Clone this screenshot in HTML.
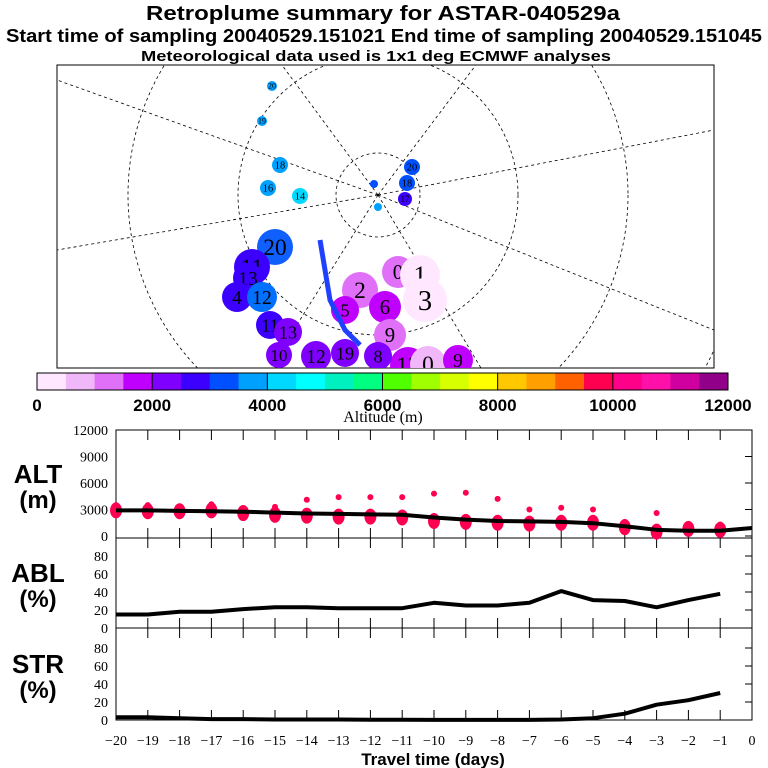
<!DOCTYPE html>
<html><head><meta charset="utf-8"><style>
body{margin:0;background:#fff;}
svg{display:block;font-family:"Liberation Sans",sans-serif;}
</style></head><body>
<svg id="c" width="768" height="768" viewBox="0 0 768 768">
<text x="383" y="20" text-anchor="middle" font-size="20" font-weight="bold" textLength="474" lengthAdjust="spacingAndGlyphs">Retroplume summary for ASTAR-040529a</text>
<text x="384" y="42" text-anchor="middle" font-size="18" font-weight="bold" textLength="756" lengthAdjust="spacingAndGlyphs">Start time of sampling 20040529.151021     End time of sampling 20040529.151045</text>
<text x="376" y="61" text-anchor="middle" font-size="15" font-weight="bold" textLength="470" lengthAdjust="spacingAndGlyphs">Meteorological data used is 1x1 deg ECMWF analyses</text>
<g id="map">
<rect x="57" y="65" width="657" height="303" fill="#fff" stroke="#000"/>
<clipPath id="mc"><rect x="57" y="65" width="657" height="303"/></clipPath>
<g clip-path="url(#mc)" fill="none" stroke="#000" stroke-dasharray="3,3" stroke-width="0.8">
<circle cx="378" cy="195" r="42"/><circle cx="378" cy="195" r="140"/><circle cx="378" cy="195" r="250"/><circle cx="378" cy="195" r="370"/>
<line x1="378" y1="195" x2="160" y2="-100"/><line x1="378" y1="195" x2="600" y2="-100"/><line x1="378" y1="195" x2="57" y2="250"/><line x1="378" y1="195" x2="714" y2="130"/><line x1="378" y1="195" x2="250" y2="400"/><line x1="378" y1="195" x2="500" y2="400"/><line x1="378" y1="195" x2="57" y2="80"/><line x1="378" y1="195" x2="714" y2="330"/>
</g>
<g id="blobs" clip-path="url(#mc)"></g>
<path d="M320 240 L330 300 L345 330 L360 345" stroke="#2040ff" stroke-width="5" fill="none"/>
</g>
<g id="cbar"></g>
<text x="383" y="422" text-anchor="middle" font-size="16" font-family="Liberation Serif,serif">Altitude (m)</text>
<g id="plots"></g>
</svg>
<script>
const days=[-20,-19,-18,-17,-16,-15,-14,-13,-12,-11,-10,-9,-8,-7,-6,-5,-4,-3,-2,-1];
const altLine=[2900,2900,2850,2800,2750,2650,2550,2500,2450,2400,2100,1850,1700,1650,1600,1450,1100,700,600,600];
const ablPct=[15,15,18,18,21,23,23,22,22,22,28,25,25,28,41,31,30,23,31,38];
const strPct=[3,3,2,1,1,0.5,0.5,0.5,0.3,0.3,0.2,0.2,0.2,0.2,0.5,2,7,17,22,30];
const blobAltA=[2900,2800,2800,2900,2600,2400,2300,2200,2200,2100,1700,1600,1500,1400,1500,1500,1000,500,800,700];
const blobAltB=[3500,3500,3300,3600,3100,3300,4100,4400,4400,4400,4800,4900,4200,3000,3200,3000,1600,2600,1300,1300];
const colorStops=["#ffe8ff","#f0b8f8","#e070f8","#c000ff","#8000ff","#3c00ff","#0050ff","#00a0ff","#00d8ff","#00ffff","#00f0c0","#00ff80","#50ff00","#a0ff00","#d8ff00","#ffff00","#ffc800","#ffa000","#ff6000","#ff0050","#ff0088","#ff10a8","#d000a0","#900088"];
const cbarTicks=[0,2000,4000,6000,8000,10000,12000];
const ns="http://www.w3.org/2000/svg";
function mk(t,a,p){const e=document.createElementNS(ns,t);for(const k in a)e.setAttribute(k,a[k]);(p||document.getElementById('c')).appendChild(e);return e;}
const cb=document.getElementById('cbar');
const cbx0=37,cbx1=728,cbw=(cbx1-cbx0)/colorStops.length;
colorStops.forEach((col,i)=>{const r=mk('rect',{x:cbx0+i*cbw,y:373,width:cbw+0.5,height:17,fill:col},cb);

});
mk('rect',{x:cbx0,y:373,width:cbx1-cbx0,height:17,fill:'none',stroke:'#000'},cb);
cbarTicks.forEach((v,i)=>{const x=cbx0+v/12000*(cbx1-cbx0);mk('line',{x1:x,y1:373,x2:x,y2:390,stroke:'#000'},cb);
const t=mk('text',{x:x,y:411,'text-anchor':'middle','font-size':'17','font-weight':'bold'},cb);t.textContent=v;

});
const mapBlobs=[[275,247,18,'#1060ff','20'],[252,267,18,'#3c00ff','11'],[248,278,15,'#3c00ff','13'],[237,297,15,'#3c00ff','4'],[262,297,15,'#0070ff','12'],[270,325,14,'#3c00ff','11'],[288,332,14,'#8000ff','13'],[279,355,13,'#8000ff','10'],[316,356,15,'#8000ff','12'],[345,353,14,'#8000ff','19'],[398,272,16,'#e070f8','0'],[420,275,20,'#ffe8ff','1'],[360,290,18,'#e070f8','2'],[425,300,22,'#ffe8ff','3'],[385,307,16,'#c000ff','6'],[345,310,14,'#c000ff','5'],[390,335,16,'#e070f8','9'],[408,365,18,'#c000ff','13'],[428,364,18,'#f0b8f8','0'],[458,360,15,'#c000ff','9'],[378,356,14,'#8000ff','8'],[272,86,5,'#00a0ff','20'],[262,121,5,'#00a0ff','19'],[280,165,8,'#00a0ff','18'],[268,188,8,'#00a0ff','16'],[300,196,8,'#00d8ff','14'],[412,167,8,'#0050ff','20'],[407,183,8,'#0050ff','18'],[405,199,7,'#3c00ff','17'],[374,184,4,'#0050ff',''],[378,207,4,'#00a0ff','']];
const bg=document.getElementById('blobs');
mapBlobs.forEach(b=>{const c=mk('circle',{cx:b[0],cy:b[1],r:b[2],fill:b[3]},bg);


if(b[4]){const t=mk('text',{x:b[0],y:b[1]+b[2]*0.45,'text-anchor':'middle','font-size':Math.max(8,b[2]*1.3),'font-family':'Liberation Serif,serif'},bg);t.textContent=b[4];}});
const X0=116,X1=752;
function xs(d){return X0+(d+20)/20*(X1-X0);}
const pl=document.getElementById('plots');
const panels=[{name:'alt',top:430,bot:538,y0:536,y1:430,max:12000,ticks:[0,3000,6000,9000,12000],lab:['ALT','(m)']},
{name:'abl',top:538,bot:628,y0:628,y1:556,max:80,ticks:[0,20,40,60,80],lab:['ABL','(%)']},
{name:'str',top:628,bot:720,y0:720,y1:648,max:80,ticks:[0,20,40,60,80],lab:['STR','(%)']}];
panels.forEach(p=>{
const ys=v=>p.y0-(v/p.max)*(p.y0-p.y1);p.ys=ys;
const r=mk('rect',{x:X0,y:p.top,width:X1-X0,height:p.bot-p.top,fill:'none',stroke:'#000'},pl);


for(let d=-19;d<=-1;d++){const x=xs(d);mk('line',{x1:x,y1:p.top,x2:x,y2:p.top+10,stroke:'#000'},pl);mk('line',{x1:x,y1:p.bot,x2:x,y2:p.bot-10,stroke:'#000'},pl);}
p.ticks.forEach(v=>{const y=ys(v);mk('line',{x1:X1,y1:y,x2:X1-7,y2:y,stroke:'#000'},pl);
const t=mk('text',{x:108,y:y+5,'text-anchor':'end','font-size':'14','font-family':'Liberation Serif,serif'},pl);t.textContent=v;

});
const my=(p.top+p.bot)/2;
const a=mk('text',{x:38,y:my-1,'text-anchor':'middle','font-size':'26','font-weight':'bold'},pl);a.textContent=p.lab[0];


const b=mk('text',{x:38,y:my+24,'text-anchor':'middle','font-size':'24','font-weight':'bold'},pl);b.textContent=p.lab[1];


});
const P=panels;
days.forEach((d,i)=>{const x=xs(d);
const e1=mk('ellipse',{cx:x,cy:P[0].ys(blobAltA[i]),rx:6,ry:8,fill:'#ff0050'},pl);


const e2=mk('ellipse',{cx:x,cy:P[0].ys(blobAltB[i]),rx:3,ry:3,fill:'#ff0050'},pl);

});
function line(arr,p,name,extra){let pts=days.map((d,i)=>xs(d)+','+p.ys(arr[i]));if(extra!=null)pts.push(xs(0)+','+p.ys(extra));
const l=mk('polyline',{points:pts.join(' '),fill:'none',stroke:'#000','stroke-width':4,'stroke-linejoin':'round'},pl);

}
line(altLine,P[0],'altitude-line',900);
line(ablPct,P[1],'abl-line');
line(strPct,P[2],'str-line');
for(let d=-20;d<=0;d++){const t=mk('text',{x:xs(d),y:745,'text-anchor':'middle','font-size':'14','font-family':'Liberation Serif,serif'},pl);t.textContent=d<0?'\u2212'+(-d):'0';

}
const xt=mk('text',{x:433,y:765,'text-anchor':'middle','font-size':'17','font-weight':'bold'},pl);xt.textContent='Travel time (days)';


</script>
</body></html>
